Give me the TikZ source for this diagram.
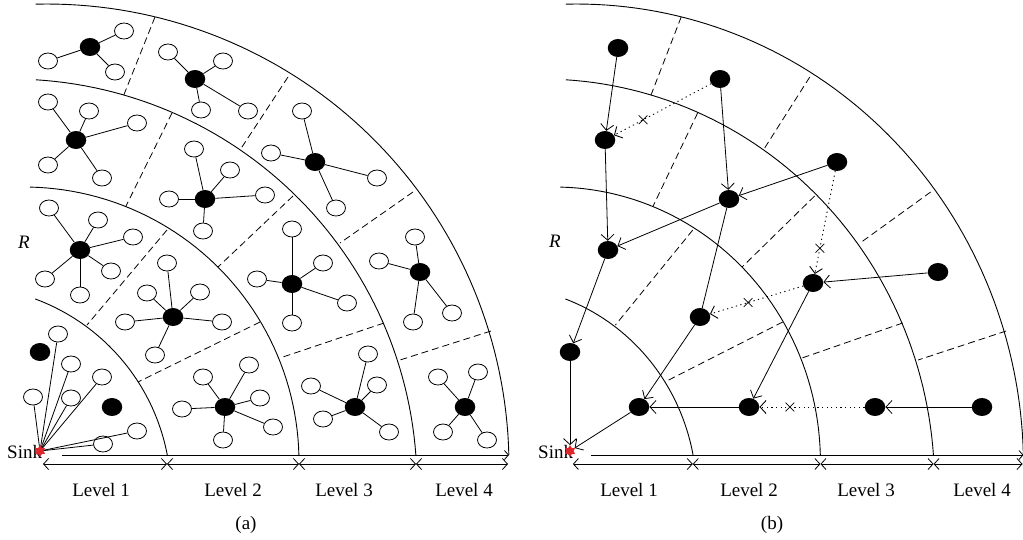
\documentclass[tikz,border=0pt]{standalone}
\usepackage{fontspec}
\setmainfont{Liberation Serif}
\usetikzlibrary{arrows.meta,shapes.geometric,shapes.misc}
\definecolor{sinkred}{RGB}{222,38,44}
\tikzset{
  hol/.style={draw, ellipse, minimum width=19pt, minimum height=16pt, inner sep=0pt, line width=0.8pt},
  ful/.style={fill=black, ellipse, minimum width=20.5pt, minimum height=18pt, inner sep=0pt},
  ring/.style={line width=0.9pt},
  cellline/.style={dash pattern=on 7pt off 4pt, line width=0.8pt},
  link/.style={line width=0.8pt},
  hop/.style={line width=0.8pt, -{Straight Barb[length=6pt,width=13pt]}},
  fail/.style={dash pattern=on 1.2pt off 3.4pt, line width=0.9pt, -{Straight Barb[length=6pt,width=13pt]}},
  xmark/.style={cross out, draw, solid, minimum size=8pt, inner sep=0pt, line width=0.7pt},
  dim/.style={line width=0.8pt, {Straight Barb[length=5pt,width=11pt]}-{Straight Barb[length=5pt,width=11pt]}},
  lbl/.style={font=\fontsize{19}{22}\selectfont, anchor=base, inner sep=0pt},
  sinkstar/.style={star, star points=6, star point ratio=1.7, fill=sinkred, draw=sinkred, line width=0.4pt, minimum size=11pt, inner sep=0pt}
}
% rings, cell borders, base line and level dimension lines of one panel
\newcommand\panelframe[1]{%
  \draw[ring] plot[domain=69.7:10.8, samples=40] ({-37+208*cos(\x)},{494-208*sin(\x)});
  \draw[ring] plot[domain=88.75:1.46, samples=50] ({24+275*cos(\x)},{462-275*sin(\x)});
  \draw[ring] plot[domain=86.5:4.2, samples=60] ({11+406*cos(\x)},{485-406*sin(\x)});
  \draw[ring] plot[domain=91.4:1.4, samples=70] ({47+462*cos(\x)},{466-462*sin(\x)});
  \draw[cellline] (155,17) -- (123,97);
  \draw[cellline] (288,77) -- (240,150);
  \draw[cellline] (413,192) -- (340,243);
  \draw[cellline] (491,331) -- (400,360);
  \draw[cellline] (172,113) -- (126,206);
  \draw[cellline] (293,196) -- (218,267);
  \draw[cellline] (384,323) -- (280,358);
  \draw[cellline] (167,230) -- (87,325);
  \draw[cellline] (260,322) -- (138,382);
  \coordinate (#1b0) at (62,455);
  \coordinate (#1b1) at (509,455);
  \draw[link, -{Straight Barb[length=4pt,width=9pt]}] (#1b0) -- (#1b1);
  \coordinate (#1d0) at (43,464);
  \coordinate (#1d1) at (167,464);
  \coordinate (#1d2) at (299,464);
  \coordinate (#1d3) at (416,464);
  \coordinate (#1d4) at (508,464);
  \draw[dim] (#1d0) -- (#1d1);
  \draw[dim] (#1d1) -- (#1d2);
  \draw[dim] (#1d2) -- (#1d3);
  \draw[dim] (#1d3) -- (#1d4);
}
% a cluster: head node #1 at #2, members listed as x/y
\newcommand\cluster[3]{%
  \node[ful] (#1) at #2 {};
  \foreach \u/\v [count=\i] in {#3} {
    \node[hol] (#1-\i) at (\u,\v) {};
    \draw[link] (#1) -- (#1-\i);
  }
}
\begin{document}
\begin{tikzpicture}[x=1pt,y=-1pt]
\useasboundingbox (0,0) rectangle (1023,539);

% ---------------- panel (a) ----------------
\panelframe{pa}
\cluster{ca}{(90,47)}{48/61,124/31,115/72}
\cluster{cb}{(195,79)}{168/52,223/61,201/110,248/111}
\cluster{cc}{(76,140)}{48/102,89/111,137/123,48/165,102/178}
\cluster{cd}{(205,199)}{194/149,230/170,169/199,203/231,265/195}
\cluster{ce}{(80,250)}{49/208,98/220,133/237,111/271,45/279,80/295}
\cluster{cf}{(315,162)}{302/111,271/153,377/178,336/208}
\cluster{cg}{(420,272)}{415/237,379/261,413/322,452/313}
\cluster{ch}{(292,284)}{292/229,323/263,257/279,292/323,347/303}
\cluster{ci}{(355,407)}{368/354,377/385,311/386,323/419,389/432}
\cluster{cj}{(465,407)}{438/377,478/372,443/432,487/440}
\cluster{ck}{(225,407)}{182/409,203/377,249/365,260/398,273/427,223/440}
\cluster{cl}{(173,317)}{167/263,147/293,200/292,125/322,222/322,155/355}
\node[ful] (f1) at (40,352) {};
\node[ful] (f2) at (112,407) {};
\coordinate (sinkA) at (40,451);
\foreach \u/\v [count=\i] in {58/334,71/364,33/397,71/398,102/377,137/431,103/444} {
  \node[hol] (s-\i) at (\u,\v) {};
  \draw[link] (sinkA) -- (s-\i);
}
\node[lbl, anchor=base west] (sinkTa) at (7,458) {Sink};
\node[sinkstar] (starA) at (sinkA) {};
\node[lbl, anchor=base west] (ra) at (18,248) {\textit{R}};
\node[lbl] (la1) at (101,496) {Level 1};
\node[lbl] (la2) at (233,496) {Level 2};
\node[lbl] (la3) at (344,496) {Level 3};
\node[lbl] (la4) at (464,496) {Level 4};
\node[lbl] (capa) at (246,529) {(a)};

% ---------------- panel (b) ----------------
\begin{scope}[xshift=531.3pt, xscale=0.967]
\panelframe{pb}
\end{scope}
\node[lbl, anchor=base west] (sinkTb) at (538,458) {Sink};
\node[sinkstar] (sinkB) at (570,451) {};
\node[lbl, anchor=base west] (rb) at (549,247) {\textit{R}};
\node[ful] (n1) at (618,48) {};
\node[ful] (n2) at (720,79) {};
\node[ful] (n3) at (605,140) {};
\node[ful] (n4) at (729,199) {};
\node[ful] (n5) at (608,250) {};
\node[ful] (n6) at (837,162) {};
\node[ful] (n7) at (938,272) {};
\node[ful] (n8) at (813,283) {};
\node[ful] (n9) at (700,317) {};
\node[ful] (n10) at (570,352) {};
\node[ful] (n11) at (639,407) {};
\node[ful] (n12) at (749,407) {};
\node[ful] (n13) at (875,407) {};
\node[ful] (n14) at (982,407) {};
\draw[hop] (n1) -- (n3);
\draw[hop] (n3) -- (n5);
\draw[hop] (n2) -- (n4);
\draw[hop] (n6) -- (n4);
\draw[hop] (n4) -- (n5);
\draw[link] (n4) -- (n9);
\draw[hop] (n5) -- (n10);
\draw[hop] (n10) -- (sinkB);
\draw[hop] (n11) -- (sinkB);
\draw[hop] (n9) -- (n11);
\draw[hop] (n12) -- (n11);
\draw[hop] (n8) -- (n12);
\draw[hop] (n7) -- (n8);
\draw[hop] (n14) -- (n13);
\draw[fail] (n2) -- node[xmark, pos=0.70] (x1) {} (n3);
\draw[fail] (n6) -- node[xmark, pos=0.75] (x2) {} (n8);
\draw[fail] (n8) -- node[xmark, pos=0.59] (x3) {} (n9);
\draw[fail] (n13) -- node[xmark, pos=0.71] (x4) {} (n12);
\node[lbl] (lb1) at (629,496) {Level 1};
\node[lbl] (lb2) at (749,496) {Level 2};
\node[lbl] (lb3) at (866,496) {Level 3};
\node[lbl] (lb4) at (982,496) {Level 4};
\node[lbl] (capb) at (772,529) {(b)};
\end{tikzpicture}
\end{document}
